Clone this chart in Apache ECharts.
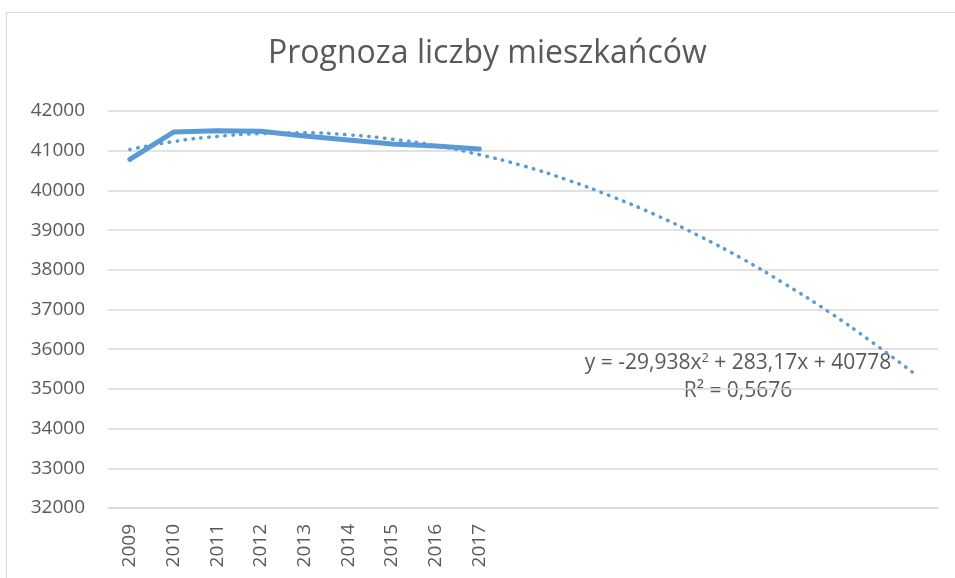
<!DOCTYPE html>
<html><head><meta charset="utf-8">
<script src="https://cdn.jsdelivr.net/npm/echarts@6/dist/echarts.min.js"></script>
<style>
html,body{margin:0;padding:0;background:#fff;}
#wrap{position:absolute;left:6px;top:12px;width:960px;height:580px;border-left:1.5px solid #d9d9d9;border-top:1.5px solid #d9d9d9;}
#c{position:absolute;left:0;top:0;width:955px;height:578px;}
</style></head><body>
<div id="wrap"></div>
<div id="c"></div>
<script>
const titleText = 'Prognoza liczby mieszkańców';
const years = ['2009','2010','2011','2012','2013','2014','2015','2016','2017','','','','','','','','','',''];
const population = [40780, 41470, 41500, 41490, 41370, 41270, 41170, 41120, 41040];
const trendValues = [41030, 41230, 41360, 41430, 41450, 41400, 41290, 41130, 40900, 40620, 40270, 39860, 39400, 38870, 38290, 37640, 36940, 36170, 35350];
const yTicks = {min: 32000, max: 42000, interval: 1000};
const equationText = 'y = -29,938x{sup|2} + 283,17x + 40778';
const r2Text = 'R² = 0,5676';

const font = 'Open Sans';
const chart = echarts.init(document.getElementById('c'));
chart.setOption({
  animation: false,
  title: {text: titleText, left: 263, top: 33, textStyle: {fontFamily: font, fontSize: 32, fontWeight: 'normal', color: '#595959'}},
  grid: {left: 108, right: 17, top: 111, bottom: 70, containLabel: false},
  xAxis: {
    type: 'category', data: years, boundaryGap: true,
    axisLine: {show: true, lineStyle: {color: '#d9d9d9', width: 1.5}},
    axisTick: {show: false},
    axisLabel: {rotate: 90, interval: 0, margin: 16, fontFamily: font, fontSize: 19, color: '#595959'}
  },
  yAxis: {
    type: 'value', min: yTicks.min, max: yTicks.max, interval: yTicks.interval,
    axisLine: {show: false}, axisTick: {show: false},
    splitLine: {lineStyle: {color: '#d9d9d9', width: 1.5}},
    axisLabel: {margin: 23, fontFamily: font, fontSize: 19, color: '#595959', formatter: v => String(v)}
  },
  series: [
    {type: 'line', data: population, symbol: 'none', z: 3,
     lineStyle: {color: '#5b9bd5', width: 5, cap: 'round', join: 'round'}},
    {type: 'line', data: trendValues, symbol: 'none', smooth: true, z: 2,
     lineStyle: {color: '#5b9bd5', width: 3.5, type: [0.5, 7.5], cap: 'round'}}
  ],
  graphic: [
    {type: 'text', x: 738, y: 363, style: {text: equationText, align: 'center', verticalAlign: 'middle', fontFamily: font, fontSize: 21, fill: '#595959',
      rich: {sup: {fontSize: 13, verticalAlign: 'top', fontFamily: font, fill: '#595959', padding: [0,0,9,0]}}}},
    {type: 'text', x: 738, y: 391, style: {text: r2Text, align: 'center', verticalAlign: 'middle', fontFamily: font, fontSize: 21, fill: '#595959'}}
  ]
});
</script>
</body></html>
